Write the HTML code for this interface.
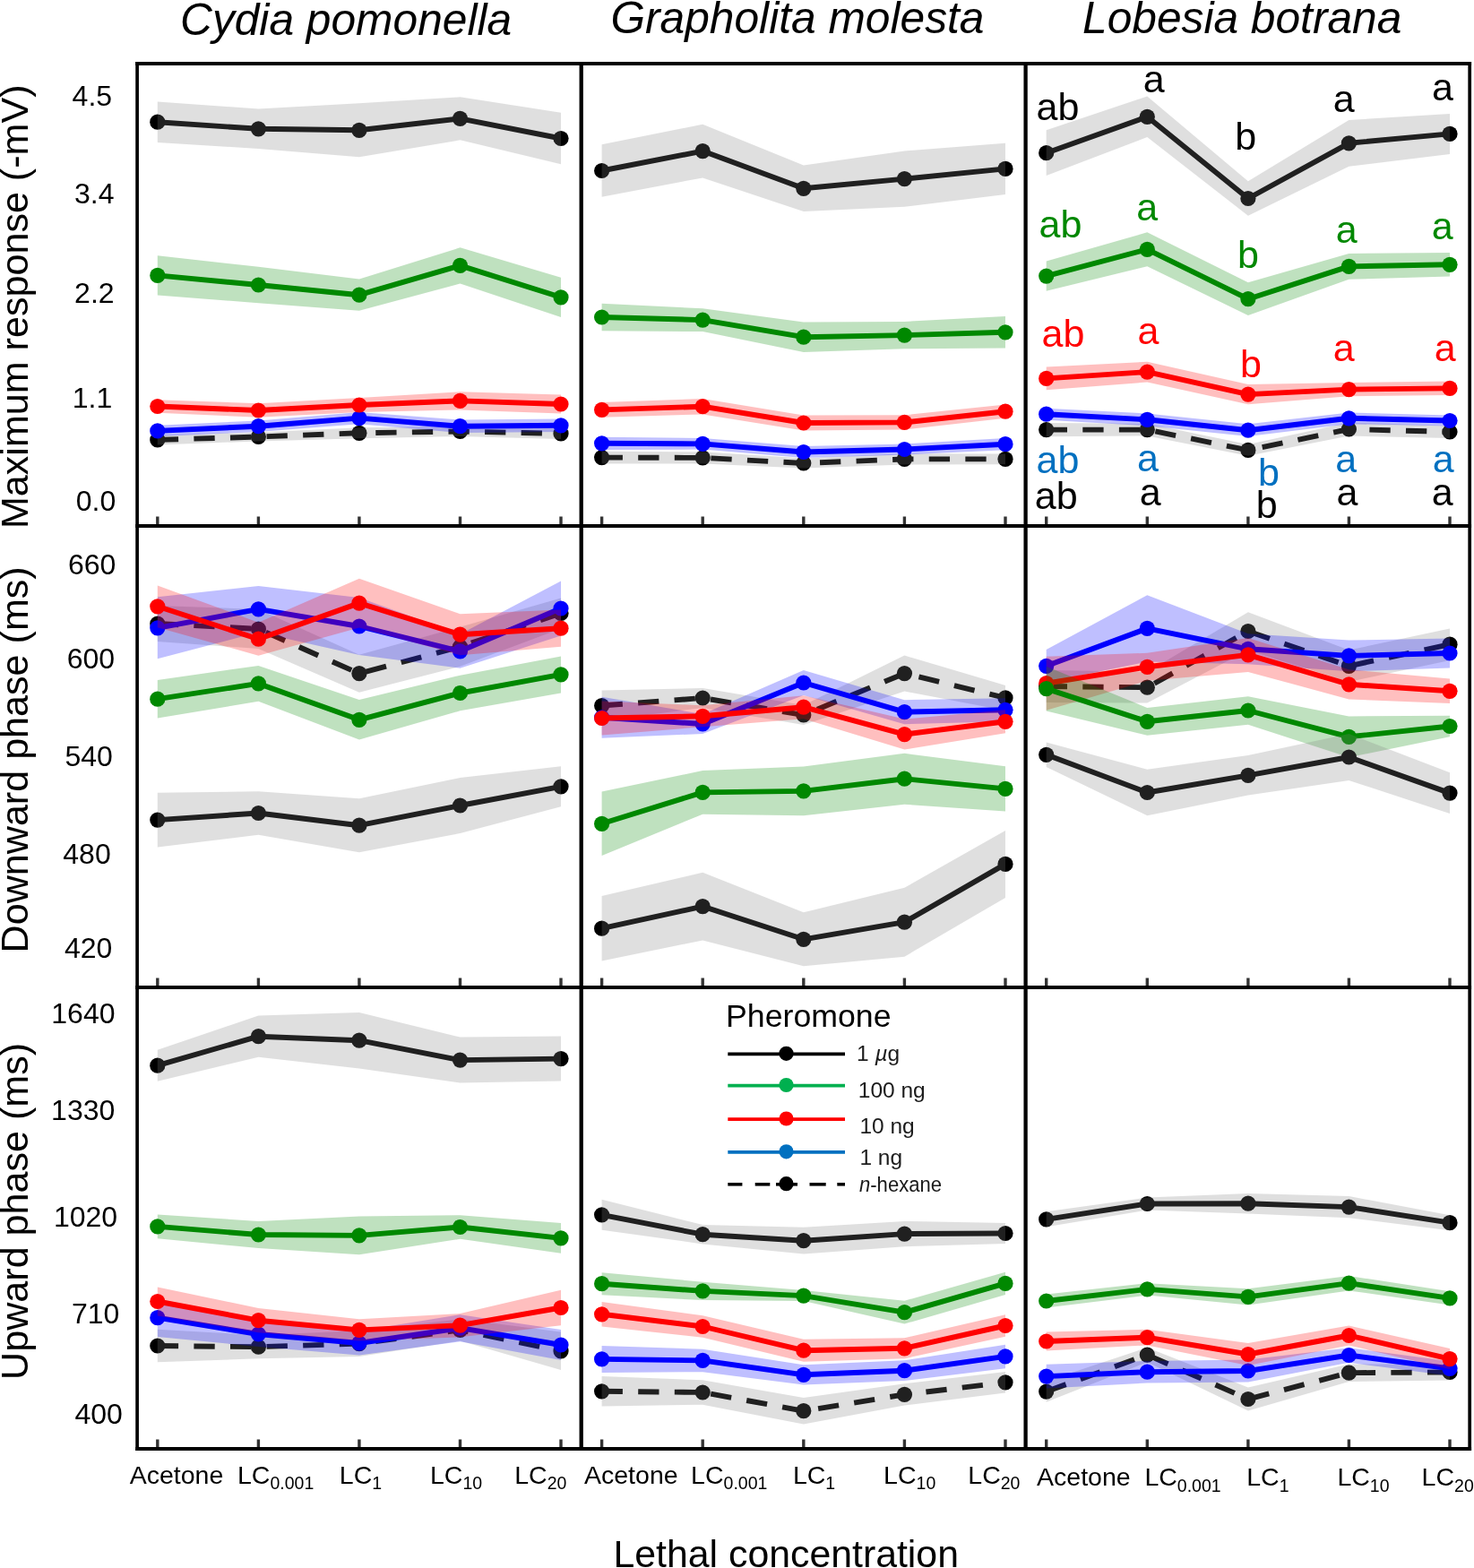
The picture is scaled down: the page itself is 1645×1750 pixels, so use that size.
<!DOCTYPE html>
<html><head><meta charset="utf-8"><title>Figure</title>
<style>
html,body{margin:0;padding:0;background:#fff;}
body{width:1645px;height:1750px;overflow:hidden;position:relative;}
svg{position:absolute;left:0;top:0;}
text{font-family:'Liberation Sans', Arial, Helvetica, sans-serif;}
</style></head><body>
<svg width="1645" height="1750" viewBox="0 0 1645 1750">
<defs><filter id="lb" x="-5%" y="-5%" width="110%" height="110%"><feGaussianBlur stdDeviation="0.55"/></filter></defs>
<rect x="0" y="0" width="1645" height="1750" fill="#fff"/>
<g id="plots">
<polyline points="175.8,490.9 288.4,487.5 400.9,483.3 513.5,481.5 626,483.9" fill="none" stroke="#000000" stroke-width="5.9" stroke-linejoin="round" stroke-dasharray="23.3 17.3"/>
<circle cx="175.8" cy="490.9" r="8.6" fill="#000000"/>
<circle cx="288.4" cy="487.5" r="8.6" fill="#000000"/>
<circle cx="400.9" cy="483.3" r="8.6" fill="#000000"/>
<circle cx="513.5" cy="481.5" r="8.6" fill="#000000"/>
<circle cx="626" cy="483.9" r="8.6" fill="#000000"/>
<polygon points="175.8,485.4 288.4,482.5 400.9,477.3 513.5,476 626,477.9 626,489.9 513.5,487 400.9,489.3 288.4,492.5 175.8,496.4" fill="#808080" fill-opacity="0.25"/>
<polyline points="175.8,480.9 288.4,475.7 400.9,466.6 513.5,475.7 626,474.8" fill="none" stroke="#0000ff" stroke-width="5.9" stroke-linejoin="round"/>
<circle cx="175.8" cy="480.9" r="8.6" fill="#0000ff"/>
<circle cx="288.4" cy="475.7" r="8.6" fill="#0000ff"/>
<circle cx="400.9" cy="466.6" r="8.6" fill="#0000ff"/>
<circle cx="513.5" cy="475.7" r="8.6" fill="#0000ff"/>
<circle cx="626" cy="474.8" r="8.6" fill="#0000ff"/>
<polygon points="175.8,474.7 288.4,469.5 400.9,460 513.5,468.4 626,467.6 626,482 513.5,483 400.9,473.2 288.4,481.9 175.8,487.1" fill="#0000ff" fill-opacity="0.25"/>
<polyline points="175.8,453.5 288.4,458 400.9,452 513.5,447.4 626,451" fill="none" stroke="#ff0000" stroke-width="5.9" stroke-linejoin="round"/>
<circle cx="175.8" cy="453.5" r="8.6" fill="#ff0000"/>
<circle cx="288.4" cy="458" r="8.6" fill="#ff0000"/>
<circle cx="400.9" cy="452" r="8.6" fill="#ff0000"/>
<circle cx="513.5" cy="447.4" r="8.6" fill="#ff0000"/>
<circle cx="626" cy="451" r="8.6" fill="#ff0000"/>
<polygon points="175.8,446.3 288.4,450.2 400.9,444.1 513.5,437.3 626,440.4 626,461.6 513.5,457.5 400.9,459.9 288.4,465.8 175.8,460.7" fill="#ff0000" fill-opacity="0.25"/>
<polyline points="175.8,307.4 288.4,318 400.9,329.2 513.5,296.4 626,331.8" fill="none" stroke="#008800" stroke-width="5.9" stroke-linejoin="round"/>
<circle cx="175.8" cy="307.4" r="8.6" fill="#008800"/>
<circle cx="288.4" cy="318" r="8.6" fill="#008800"/>
<circle cx="400.9" cy="329.2" r="8.6" fill="#008800"/>
<circle cx="513.5" cy="296.4" r="8.6" fill="#008800"/>
<circle cx="626" cy="331.8" r="8.6" fill="#008800"/>
<polygon points="175.8,285.2 288.4,297.8 400.9,311.6 513.5,276.3 626,309.7 626,353.9 513.5,316.5 400.9,346.8 288.4,338.2 175.8,329.6" fill="#008800" fill-opacity="0.25"/>
<polyline points="175.8,136.2 288.4,143.8 400.9,145.3 513.5,132.3 626,154.5" fill="none" stroke="#000000" stroke-width="5.9" stroke-linejoin="round"/>
<circle cx="175.8" cy="136.2" r="8.6" fill="#000000"/>
<circle cx="288.4" cy="143.8" r="8.6" fill="#000000"/>
<circle cx="400.9" cy="145.3" r="8.6" fill="#000000"/>
<circle cx="513.5" cy="132.3" r="8.6" fill="#000000"/>
<circle cx="626" cy="154.5" r="8.6" fill="#000000"/>
<polygon points="175.8,113.4 288.4,121.6 400.9,115.3 513.5,108.3 626,125.7 626,183.3 513.5,156.3 400.9,175.3 288.4,166 175.8,159" fill="#808080" fill-opacity="0.25"/>
<polyline points="175.8,696 288.4,702 400.9,751.7 513.5,721.8 626,684.5" fill="none" stroke="#000000" stroke-width="5.9" stroke-linejoin="round" stroke-dasharray="23.3 17.3"/>
<circle cx="175.8" cy="696" r="8.6" fill="#000000"/>
<circle cx="288.4" cy="702" r="8.6" fill="#000000"/>
<circle cx="400.9" cy="751.7" r="8.6" fill="#000000"/>
<circle cx="513.5" cy="721.8" r="8.6" fill="#000000"/>
<circle cx="626" cy="684.5" r="8.6" fill="#000000"/>
<polygon points="175.8,676 288.4,680 400.9,730.7 513.5,699.8 626,667.5 626,701.5 513.5,743.8 400.9,772.7 288.4,724 175.8,716" fill="#808080" fill-opacity="0.25"/>
<polyline points="175.8,700.8 288.4,679.9 400.9,699 513.5,726.8 626,679" fill="none" stroke="#0000ff" stroke-width="5.9" stroke-linejoin="round"/>
<circle cx="175.8" cy="700.8" r="8.6" fill="#0000ff"/>
<circle cx="288.4" cy="679.9" r="8.6" fill="#0000ff"/>
<circle cx="400.9" cy="699" r="8.6" fill="#0000ff"/>
<circle cx="513.5" cy="726.8" r="8.6" fill="#0000ff"/>
<circle cx="626" cy="679" r="8.6" fill="#0000ff"/>
<polygon points="175.8,666.3 288.4,654 400.9,667 513.5,707.8 626,648.5 626,709.5 513.5,745.8 400.9,731 288.4,705.8 175.8,735.3" fill="#0000ff" fill-opacity="0.25"/>
<polyline points="175.8,676.8 288.4,713.2 400.9,673.1 513.5,708.2 626,701.2" fill="none" stroke="#ff0000" stroke-width="5.9" stroke-linejoin="round"/>
<circle cx="175.8" cy="676.8" r="8.6" fill="#ff0000"/>
<circle cx="288.4" cy="713.2" r="8.6" fill="#ff0000"/>
<circle cx="400.9" cy="673.1" r="8.6" fill="#ff0000"/>
<circle cx="513.5" cy="708.2" r="8.6" fill="#ff0000"/>
<circle cx="626" cy="701.2" r="8.6" fill="#ff0000"/>
<polygon points="175.8,653.4 288.4,694.7 400.9,645.8 513.5,685.2 626,680.6 626,721.8 513.5,731.2 400.9,700.4 288.4,731.7 175.8,700.2" fill="#ff0000" fill-opacity="0.25"/>
<polyline points="175.8,780.2 288.4,762.9 400.9,803.3 513.5,773.5 626,752.9" fill="none" stroke="#008800" stroke-width="5.9" stroke-linejoin="round"/>
<circle cx="175.8" cy="780.2" r="8.6" fill="#008800"/>
<circle cx="288.4" cy="762.9" r="8.6" fill="#008800"/>
<circle cx="400.9" cy="803.3" r="8.6" fill="#008800"/>
<circle cx="513.5" cy="773.5" r="8.6" fill="#008800"/>
<circle cx="626" cy="752.9" r="8.6" fill="#008800"/>
<polygon points="175.8,758.9 288.4,743 400.9,781 513.5,753.7 626,732.4 626,773.4 513.5,793.3 400.9,825.6 288.4,782.8 175.8,801.5" fill="#008800" fill-opacity="0.25"/>
<polyline points="175.8,915.1 288.4,907.5 400.9,921.2 513.5,899 626,877.8" fill="none" stroke="#000000" stroke-width="5.9" stroke-linejoin="round"/>
<circle cx="175.8" cy="915.1" r="8.6" fill="#000000"/>
<circle cx="288.4" cy="907.5" r="8.6" fill="#000000"/>
<circle cx="400.9" cy="921.2" r="8.6" fill="#000000"/>
<circle cx="513.5" cy="899" r="8.6" fill="#000000"/>
<circle cx="626" cy="877.8" r="8.6" fill="#000000"/>
<polygon points="175.8,884.7 288.4,883.2 400.9,891.2 513.5,868 626,855.3 626,900.3 513.5,930 400.9,951.2 288.4,931.8 175.8,945.5" fill="#808080" fill-opacity="0.25"/>
<polyline points="175.8,1502 288.4,1503.2 400.9,1499.6 513.5,1484.4 626,1507.8" fill="none" stroke="#000000" stroke-width="5.9" stroke-linejoin="round" stroke-dasharray="23.3 17.3"/>
<circle cx="175.8" cy="1502" r="8.6" fill="#000000"/>
<circle cx="288.4" cy="1503.2" r="8.6" fill="#000000"/>
<circle cx="400.9" cy="1499.6" r="8.6" fill="#000000"/>
<circle cx="513.5" cy="1484.4" r="8.6" fill="#000000"/>
<circle cx="626" cy="1507.8" r="8.6" fill="#000000"/>
<polygon points="175.8,1483.8 288.4,1490.1 400.9,1485.3 513.5,1472.3 626,1486.6 626,1529 513.5,1496.5 400.9,1513.9 288.4,1516.3 175.8,1520.2" fill="#808080" fill-opacity="0.25"/>
<polyline points="175.8,1470.7 288.4,1489 400.9,1499 513.5,1482.2 626,1501" fill="none" stroke="#0000ff" stroke-width="5.9" stroke-linejoin="round"/>
<circle cx="175.8" cy="1470.7" r="8.6" fill="#0000ff"/>
<circle cx="288.4" cy="1489" r="8.6" fill="#0000ff"/>
<circle cx="400.9" cy="1499" r="8.6" fill="#0000ff"/>
<circle cx="513.5" cy="1482.2" r="8.6" fill="#0000ff"/>
<circle cx="626" cy="1501" r="8.6" fill="#0000ff"/>
<polygon points="175.8,1449.4 288.4,1475 400.9,1485.4 513.5,1467.2 626,1484 626,1518 513.5,1497.2 400.9,1512.6 288.4,1503 175.8,1492" fill="#0000ff" fill-opacity="0.25"/>
<polyline points="175.8,1452.5 288.4,1473.7 400.9,1484.4 513.5,1479.2 626,1459.5" fill="none" stroke="#ff0000" stroke-width="5.9" stroke-linejoin="round"/>
<circle cx="175.8" cy="1452.5" r="8.6" fill="#ff0000"/>
<circle cx="288.4" cy="1473.7" r="8.6" fill="#ff0000"/>
<circle cx="400.9" cy="1484.4" r="8.6" fill="#ff0000"/>
<circle cx="513.5" cy="1479.2" r="8.6" fill="#ff0000"/>
<circle cx="626" cy="1459.5" r="8.6" fill="#ff0000"/>
<polygon points="175.8,1436.4 288.4,1460.1 400.9,1472.2 513.5,1466.1 626,1439.7 626,1479.3 513.5,1492.3 400.9,1496.6 288.4,1487.3 175.8,1468.6" fill="#ff0000" fill-opacity="0.25"/>
<polyline points="175.8,1368.9 288.4,1378 400.9,1378.9 513.5,1369.5 626,1381.9" fill="none" stroke="#008800" stroke-width="5.9" stroke-linejoin="round"/>
<circle cx="175.8" cy="1368.9" r="8.6" fill="#008800"/>
<circle cx="288.4" cy="1378" r="8.6" fill="#008800"/>
<circle cx="400.9" cy="1378.9" r="8.6" fill="#008800"/>
<circle cx="513.5" cy="1369.5" r="8.6" fill="#008800"/>
<circle cx="626" cy="1381.9" r="8.6" fill="#008800"/>
<polygon points="175.8,1355.6 288.4,1363 400.9,1357.6 513.5,1356.2 626,1365 626,1398.8 513.5,1382.8 400.9,1400.2 288.4,1393 175.8,1382.2" fill="#008800" fill-opacity="0.25"/>
<polyline points="175.8,1189.2 288.4,1156.7 400.9,1161.2 513.5,1183.1 626,1181.6" fill="none" stroke="#000000" stroke-width="5.9" stroke-linejoin="round"/>
<circle cx="175.8" cy="1189.2" r="8.6" fill="#000000"/>
<circle cx="288.4" cy="1156.7" r="8.6" fill="#000000"/>
<circle cx="400.9" cy="1161.2" r="8.6" fill="#000000"/>
<circle cx="513.5" cy="1183.1" r="8.6" fill="#000000"/>
<circle cx="626" cy="1181.6" r="8.6" fill="#000000"/>
<polygon points="175.8,1171.8 288.4,1133.6 400.9,1130 513.5,1157.6 626,1156.5 626,1206.6 513.5,1208.6 400.9,1192.4 288.4,1179.8 175.8,1206.7" fill="#808080" fill-opacity="0.25"/>
<polyline points="671.6,510.6 784.2,510.9 896.8,517 1009.4,512.4 1122,512.4" fill="none" stroke="#000000" stroke-width="5.9" stroke-linejoin="round" stroke-dasharray="23.3 17.3"/>
<circle cx="671.6" cy="510.6" r="8.6" fill="#000000"/>
<circle cx="784.2" cy="510.9" r="8.6" fill="#000000"/>
<circle cx="896.8" cy="517" r="8.6" fill="#000000"/>
<circle cx="1009.4" cy="512.4" r="8.6" fill="#000000"/>
<circle cx="1122" cy="512.4" r="8.6" fill="#000000"/>
<polygon points="671.6,503.8 784.2,504.3 896.8,511.4 1009.4,506.3 1122,506.6 1122,518.2 1009.4,518.5 896.8,522.6 784.2,517.4 671.6,517.5" fill="#808080" fill-opacity="0.25"/>
<polyline points="671.6,494.8 784.2,495.4 896.8,504.5 1009.4,501.5 1122,495.7" fill="none" stroke="#0000ff" stroke-width="5.9" stroke-linejoin="round"/>
<circle cx="671.6" cy="494.8" r="8.6" fill="#0000ff"/>
<circle cx="784.2" cy="495.4" r="8.6" fill="#0000ff"/>
<circle cx="896.8" cy="504.5" r="8.6" fill="#0000ff"/>
<circle cx="1009.4" cy="501.5" r="8.6" fill="#0000ff"/>
<circle cx="1122" cy="495.7" r="8.6" fill="#0000ff"/>
<polygon points="671.6,487.7 784.2,489.1 896.8,497.9 1009.4,495.4 1122,489.1 1122,502.2 1009.4,507.6 896.8,511.1 784.2,501.6 671.6,501.9" fill="#0000ff" fill-opacity="0.25"/>
<polyline points="671.6,457.4 784.2,453.7 896.8,472 1009.4,471.4 1122,459.2" fill="none" stroke="#ff0000" stroke-width="5.9" stroke-linejoin="round"/>
<circle cx="671.6" cy="457.4" r="8.6" fill="#ff0000"/>
<circle cx="784.2" cy="453.7" r="8.6" fill="#ff0000"/>
<circle cx="896.8" cy="472" r="8.6" fill="#ff0000"/>
<circle cx="1009.4" cy="471.4" r="8.6" fill="#ff0000"/>
<circle cx="1122" cy="459.2" r="8.6" fill="#ff0000"/>
<polygon points="671.6,449 784.2,445 896.8,463.6 1009.4,463.3 1122,451.6 1122,466.8 1009.4,479.4 896.8,480.4 784.2,462.4 671.6,465.8" fill="#ff0000" fill-opacity="0.25"/>
<polyline points="671.6,354 784.2,357.1 896.8,376.2 1009.4,374.1 1122,370.8" fill="none" stroke="#008800" stroke-width="5.9" stroke-linejoin="round"/>
<circle cx="671.6" cy="354" r="8.6" fill="#008800"/>
<circle cx="784.2" cy="357.1" r="8.6" fill="#008800"/>
<circle cx="896.8" cy="376.2" r="8.6" fill="#008800"/>
<circle cx="1009.4" cy="374.1" r="8.6" fill="#008800"/>
<circle cx="1122" cy="370.8" r="8.6" fill="#008800"/>
<polygon points="671.6,338.8 784.2,344.2 896.8,359.4 1009.4,358.9 1122,353 1122,388.6 1009.4,389.3 896.8,392.9 784.2,370.1 671.6,369.2" fill="#008800" fill-opacity="0.25"/>
<polyline points="671.6,190.5 784.2,168.6 896.8,210.3 1009.4,199.6 1122,188.4" fill="none" stroke="#000000" stroke-width="5.9" stroke-linejoin="round"/>
<circle cx="671.6" cy="190.5" r="8.6" fill="#000000"/>
<circle cx="784.2" cy="168.6" r="8.6" fill="#000000"/>
<circle cx="896.8" cy="210.3" r="8.6" fill="#000000"/>
<circle cx="1009.4" cy="199.6" r="8.6" fill="#000000"/>
<circle cx="1122" cy="188.4" r="8.6" fill="#000000"/>
<polygon points="671.6,161.3 784.2,138.8 896.8,184.6 1009.4,168.4 1122,159.8 1122,217 1009.4,230.8 896.8,236 784.2,198.4 671.6,219.7" fill="#808080" fill-opacity="0.25"/>
<polyline points="671.6,787.5 784.2,779 896.8,798 1009.4,751.6 1122,778.9" fill="none" stroke="#000000" stroke-width="5.9" stroke-linejoin="round" stroke-dasharray="23.3 17.3"/>
<circle cx="671.6" cy="787.5" r="8.6" fill="#000000"/>
<circle cx="784.2" cy="779" r="8.6" fill="#000000"/>
<circle cx="896.8" cy="798" r="8.6" fill="#000000"/>
<circle cx="1009.4" cy="751.6" r="8.6" fill="#000000"/>
<circle cx="1122" cy="778.9" r="8.6" fill="#000000"/>
<polygon points="671.6,770.5 784.2,768 896.8,787 1009.4,731.6 1122,764.9 1122,792.9 1009.4,771.6 896.8,809 784.2,790 671.6,804.5" fill="#808080" fill-opacity="0.25"/>
<polyline points="671.6,800.8 784.2,808 896.8,762 1009.4,794.7 1122,792.3" fill="none" stroke="#0000ff" stroke-width="5.9" stroke-linejoin="round"/>
<circle cx="671.6" cy="800.8" r="8.6" fill="#0000ff"/>
<circle cx="784.2" cy="808" r="8.6" fill="#0000ff"/>
<circle cx="896.8" cy="762" r="8.6" fill="#0000ff"/>
<circle cx="1009.4" cy="794.7" r="8.6" fill="#0000ff"/>
<circle cx="1122" cy="792.3" r="8.6" fill="#0000ff"/>
<polygon points="671.6,777.8 784.2,797 896.8,748 1009.4,781.2 1122,779.3 1122,805.3 1009.4,808.2 896.8,776 784.2,819 671.6,823.8" fill="#0000ff" fill-opacity="0.25"/>
<polyline points="671.6,801.5 784.2,799.3 896.8,789.2 1009.4,819.6 1122,805.3" fill="none" stroke="#ff0000" stroke-width="5.9" stroke-linejoin="round"/>
<circle cx="671.6" cy="801.5" r="8.6" fill="#ff0000"/>
<circle cx="784.2" cy="799.3" r="8.6" fill="#ff0000"/>
<circle cx="896.8" cy="789.2" r="8.6" fill="#ff0000"/>
<circle cx="1009.4" cy="819.6" r="8.6" fill="#ff0000"/>
<circle cx="1122" cy="805.3" r="8.6" fill="#ff0000"/>
<polygon points="671.6,782.5 784.2,787.3 896.8,776.2 1009.4,802.6 1122,792.3 1122,818.3 1009.4,836.6 896.8,802.2 784.2,811.3 671.6,820.5" fill="#ff0000" fill-opacity="0.25"/>
<polyline points="671.6,919.3 784.2,884.4 896.8,882.9 1009.4,869.2 1122,880.4" fill="none" stroke="#008800" stroke-width="5.9" stroke-linejoin="round"/>
<circle cx="671.6" cy="919.3" r="8.6" fill="#008800"/>
<circle cx="784.2" cy="884.4" r="8.6" fill="#008800"/>
<circle cx="896.8" cy="882.9" r="8.6" fill="#008800"/>
<circle cx="1009.4" cy="869.2" r="8.6" fill="#008800"/>
<circle cx="1122" cy="880.4" r="8.6" fill="#008800"/>
<polygon points="671.6,883.6 784.2,860.1 896.8,855.5 1009.4,840.8 1122,855.3 1122,905.5 1009.4,897.7 896.8,910.2 784.2,908.7 671.6,955" fill="#008800" fill-opacity="0.25"/>
<polyline points="671.6,1036.2 784.2,1011.6 896.8,1048.3 1009.4,1029.2 1122,964.4" fill="none" stroke="#000000" stroke-width="5.9" stroke-linejoin="round"/>
<circle cx="671.6" cy="1036.2" r="8.6" fill="#000000"/>
<circle cx="784.2" cy="1011.6" r="8.6" fill="#000000"/>
<circle cx="896.8" cy="1048.3" r="8.6" fill="#000000"/>
<circle cx="1009.4" cy="1029.2" r="8.6" fill="#000000"/>
<circle cx="1122" cy="964.4" r="8.6" fill="#000000"/>
<polygon points="671.6,1000.1 784.2,973.8 896.8,1018.3 1009.4,990.8 1122,926.9 1122,1001.9 1009.4,1067.7 896.8,1078.2 784.2,1049.4 671.6,1072.4" fill="#808080" fill-opacity="0.25"/>
<polyline points="671.6,1552.8 784.2,1554 896.8,1574.7 1009.4,1556.4 1122,1542.8" fill="none" stroke="#000000" stroke-width="5.9" stroke-linejoin="round" stroke-dasharray="23.3 17.3"/>
<circle cx="671.6" cy="1552.8" r="8.6" fill="#000000"/>
<circle cx="784.2" cy="1554" r="8.6" fill="#000000"/>
<circle cx="896.8" cy="1574.7" r="8.6" fill="#000000"/>
<circle cx="1009.4" cy="1556.4" r="8.6" fill="#000000"/>
<circle cx="1122" cy="1542.8" r="8.6" fill="#000000"/>
<polygon points="671.6,1536.1 784.2,1540.3 896.8,1560 1009.4,1544.2 1122,1531.1 1122,1554.5 1009.4,1568.6 896.8,1589.5 784.2,1567.7 671.6,1569.5" fill="#808080" fill-opacity="0.25"/>
<polyline points="671.6,1516.9 784.2,1518.4 896.8,1534.3 1009.4,1529.7 1122,1513.9" fill="none" stroke="#0000ff" stroke-width="5.9" stroke-linejoin="round"/>
<circle cx="671.6" cy="1516.9" r="8.6" fill="#0000ff"/>
<circle cx="784.2" cy="1518.4" r="8.6" fill="#0000ff"/>
<circle cx="896.8" cy="1534.3" r="8.6" fill="#0000ff"/>
<circle cx="1009.4" cy="1529.7" r="8.6" fill="#0000ff"/>
<circle cx="1122" cy="1513.9" r="8.6" fill="#0000ff"/>
<polygon points="671.6,1501.9 784.2,1505.7 896.8,1523.2 1009.4,1518.3 1122,1500.7 1122,1527.2 1009.4,1541.1 896.8,1545.4 784.2,1531.2 671.6,1532" fill="#0000ff" fill-opacity="0.25"/>
<polyline points="671.6,1466.8 784.2,1480.5 896.8,1507.2 1009.4,1504.8 1122,1479.5" fill="none" stroke="#ff0000" stroke-width="5.9" stroke-linejoin="round"/>
<circle cx="671.6" cy="1466.8" r="8.6" fill="#ff0000"/>
<circle cx="784.2" cy="1480.5" r="8.6" fill="#ff0000"/>
<circle cx="896.8" cy="1507.2" r="8.6" fill="#ff0000"/>
<circle cx="1009.4" cy="1504.8" r="8.6" fill="#ff0000"/>
<circle cx="1122" cy="1479.5" r="8.6" fill="#ff0000"/>
<polygon points="671.6,1453.1 784.2,1468.3 896.8,1494.7 1009.4,1493.2 1122,1467.3 1122,1491.7 1009.4,1516.3 896.8,1519.7 784.2,1492.7 671.6,1480.5" fill="#ff0000" fill-opacity="0.25"/>
<polyline points="671.6,1432.7 784.2,1440.9 896.8,1446.1 1009.4,1464.7 1122,1432.4" fill="none" stroke="#008800" stroke-width="5.9" stroke-linejoin="round"/>
<circle cx="671.6" cy="1432.7" r="8.6" fill="#008800"/>
<circle cx="784.2" cy="1440.9" r="8.6" fill="#008800"/>
<circle cx="896.8" cy="1446.1" r="8.6" fill="#008800"/>
<circle cx="1009.4" cy="1464.7" r="8.6" fill="#008800"/>
<circle cx="1122" cy="1432.4" r="8.6" fill="#008800"/>
<polygon points="671.6,1420.2 784.2,1430.7 896.8,1440.1 1009.4,1451.8 1122,1419.8 1122,1445 1009.4,1477.6 896.8,1452.1 784.2,1451.1 671.6,1445.2" fill="#008800" fill-opacity="0.25"/>
<polyline points="671.6,1355.8 784.2,1377.7 896.8,1384.7 1009.4,1377.1 1122,1376.5" fill="none" stroke="#000000" stroke-width="5.9" stroke-linejoin="round"/>
<circle cx="671.6" cy="1355.8" r="8.6" fill="#000000"/>
<circle cx="784.2" cy="1377.7" r="8.6" fill="#000000"/>
<circle cx="896.8" cy="1384.7" r="8.6" fill="#000000"/>
<circle cx="1009.4" cy="1377.1" r="8.6" fill="#000000"/>
<circle cx="1122" cy="1376.5" r="8.6" fill="#000000"/>
<polygon points="671.6,1338.8 784.2,1367 896.8,1369.8 1009.4,1362.9 1122,1365.1 1122,1387.9 1009.4,1391.2 896.8,1399.6 784.2,1388.4 671.6,1372.8" fill="#808080" fill-opacity="0.25"/>
<polyline points="1167.7,479.6 1280.3,479.6 1392.9,502.4 1505.4,479 1618,482" fill="none" stroke="#000000" stroke-width="5.9" stroke-linejoin="round" stroke-dasharray="23.3 17.3"/>
<circle cx="1167.7" cy="479.6" r="8.6" fill="#000000"/>
<circle cx="1280.3" cy="479.6" r="8.6" fill="#000000"/>
<circle cx="1392.9" cy="502.4" r="8.6" fill="#000000"/>
<circle cx="1505.4" cy="479" r="8.6" fill="#000000"/>
<circle cx="1618" cy="482" r="8.6" fill="#000000"/>
<polygon points="1167.7,472 1280.3,472.8 1392.9,496 1505.4,471.4 1618,475.1 1618,488.9 1505.4,486.6 1392.9,508.8 1280.3,486.5 1167.7,487.2" fill="#808080" fill-opacity="0.25"/>
<polyline points="1167.7,462.2 1280.3,468.3 1392.9,480.2 1505.4,466.8 1618,469.5" fill="none" stroke="#0000ff" stroke-width="5.9" stroke-linejoin="round"/>
<circle cx="1167.7" cy="462.2" r="8.6" fill="#0000ff"/>
<circle cx="1280.3" cy="468.3" r="8.6" fill="#0000ff"/>
<circle cx="1392.9" cy="480.2" r="8.6" fill="#0000ff"/>
<circle cx="1505.4" cy="466.8" r="8.6" fill="#0000ff"/>
<circle cx="1618" cy="469.5" r="8.6" fill="#0000ff"/>
<polygon points="1167.7,455.7 1280.3,461.4 1392.9,473.3 1505.4,460.4 1618,463.4 1618,475.6 1505.4,473.2 1392.9,487.1 1280.3,475.2 1167.7,468.7" fill="#0000ff" fill-opacity="0.25"/>
<polyline points="1167.7,422.4 1280.3,415.1 1392.9,440.1 1505.4,434.6 1618,433.4" fill="none" stroke="#ff0000" stroke-width="5.9" stroke-linejoin="round"/>
<circle cx="1167.7" cy="422.4" r="8.6" fill="#ff0000"/>
<circle cx="1280.3" cy="415.1" r="8.6" fill="#ff0000"/>
<circle cx="1392.9" cy="440.1" r="8.6" fill="#ff0000"/>
<circle cx="1505.4" cy="434.6" r="8.6" fill="#ff0000"/>
<circle cx="1618" cy="433.4" r="8.6" fill="#ff0000"/>
<polygon points="1167.7,409.5 1280.3,403.7 1392.9,429 1505.4,427 1618,425.6 1618,441.1 1505.4,442.2 1392.9,451.2 1280.3,426.5 1167.7,435.3" fill="#ff0000" fill-opacity="0.25"/>
<polyline points="1167.7,308.1 1280.3,278.3 1392.9,333.7 1505.4,297.4 1618,295.3" fill="none" stroke="#008800" stroke-width="5.9" stroke-linejoin="round"/>
<circle cx="1167.7" cy="308.1" r="8.6" fill="#008800"/>
<circle cx="1280.3" cy="278.3" r="8.6" fill="#008800"/>
<circle cx="1392.9" cy="333.7" r="8.6" fill="#008800"/>
<circle cx="1505.4" cy="297.4" r="8.6" fill="#008800"/>
<circle cx="1618" cy="295.3" r="8.6" fill="#008800"/>
<polygon points="1167.7,291.4 1280.3,259.3 1392.9,315.3 1505.4,283 1618,282.1 1618,308.6 1505.4,311.8 1392.9,352.1 1280.3,297.3 1167.7,324.8" fill="#008800" fill-opacity="0.25"/>
<polyline points="1167.7,170.7 1280.3,130.3 1392.9,221.5 1505.4,159.8 1618,149.4" fill="none" stroke="#000000" stroke-width="5.9" stroke-linejoin="round"/>
<circle cx="1167.7" cy="170.7" r="8.6" fill="#000000"/>
<circle cx="1280.3" cy="130.3" r="8.6" fill="#000000"/>
<circle cx="1392.9" cy="221.5" r="8.6" fill="#000000"/>
<circle cx="1505.4" cy="159.8" r="8.6" fill="#000000"/>
<circle cx="1618" cy="149.4" r="8.6" fill="#000000"/>
<polygon points="1167.7,145.3 1280.3,107.5 1392.9,202.3 1505.4,134 1618,126.9 1618,171.9 1505.4,185.7 1392.9,240.7 1280.3,153.1 1167.7,196" fill="#808080" fill-opacity="0.25"/>
<polyline points="1167.7,766 1280.3,767.2 1392.9,704.5 1505.4,743.3 1618,719.2" fill="none" stroke="#000000" stroke-width="5.9" stroke-linejoin="round" stroke-dasharray="23.3 17.3"/>
<circle cx="1167.7" cy="766" r="8.6" fill="#000000"/>
<circle cx="1280.3" cy="767.2" r="8.6" fill="#000000"/>
<circle cx="1392.9" cy="704.5" r="8.6" fill="#000000"/>
<circle cx="1505.4" cy="743.3" r="8.6" fill="#000000"/>
<circle cx="1618" cy="719.2" r="8.6" fill="#000000"/>
<polygon points="1167.7,748 1280.3,749.9 1392.9,683.2 1505.4,725.6 1618,701.5 1618,736.9 1505.4,761 1392.9,725.8 1280.3,784.5 1167.7,784" fill="#808080" fill-opacity="0.25"/>
<polyline points="1167.7,743.3 1280.3,701.4 1392.9,724.3 1505.4,731.9 1618,729" fill="none" stroke="#0000ff" stroke-width="5.9" stroke-linejoin="round"/>
<circle cx="1167.7" cy="743.3" r="8.6" fill="#0000ff"/>
<circle cx="1280.3" cy="701.4" r="8.6" fill="#0000ff"/>
<circle cx="1392.9" cy="724.3" r="8.6" fill="#0000ff"/>
<circle cx="1505.4" cy="731.9" r="8.6" fill="#0000ff"/>
<circle cx="1618" cy="729" r="8.6" fill="#0000ff"/>
<polygon points="1167.7,725.1 1280.3,664.2 1392.9,707.3 1505.4,714.5 1618,712.6 1618,745.4 1505.4,749.3 1392.9,741.3 1280.3,738.6 1167.7,761.5" fill="#0000ff" fill-opacity="0.25"/>
<polyline points="1167.7,762.7 1280.3,744.3 1392.9,730.9 1505.4,763.8 1618,771.3" fill="none" stroke="#ff0000" stroke-width="5.9" stroke-linejoin="round"/>
<circle cx="1167.7" cy="762.7" r="8.6" fill="#ff0000"/>
<circle cx="1280.3" cy="744.3" r="8.6" fill="#ff0000"/>
<circle cx="1392.9" cy="730.9" r="8.6" fill="#ff0000"/>
<circle cx="1505.4" cy="763.8" r="8.6" fill="#ff0000"/>
<circle cx="1618" cy="771.3" r="8.6" fill="#ff0000"/>
<polygon points="1167.7,732.7 1280.3,728.8 1392.9,711.9 1505.4,747.2 1618,757.5 1618,785.1 1505.4,780.4 1392.9,749.9 1280.3,759.8 1167.7,792.7" fill="#ff0000" fill-opacity="0.25"/>
<polyline points="1167.7,768.6 1280.3,805.3 1392.9,793 1505.4,822.3 1618,810.5" fill="none" stroke="#008800" stroke-width="5.9" stroke-linejoin="round"/>
<circle cx="1167.7" cy="768.6" r="8.6" fill="#008800"/>
<circle cx="1280.3" cy="805.3" r="8.6" fill="#008800"/>
<circle cx="1392.9" cy="793" r="8.6" fill="#008800"/>
<circle cx="1505.4" cy="822.3" r="8.6" fill="#008800"/>
<circle cx="1618" cy="810.5" r="8.6" fill="#008800"/>
<polygon points="1167.7,743.7 1280.3,789.9 1392.9,777.2 1505.4,799.4 1618,798.8 1618,822.2 1505.4,845.2 1392.9,808.8 1280.3,820.7 1167.7,793.5" fill="#008800" fill-opacity="0.25"/>
<polyline points="1167.7,842.3 1280.3,884.5 1392.9,865.3 1505.4,845 1618,885.1" fill="none" stroke="#000000" stroke-width="5.9" stroke-linejoin="round"/>
<circle cx="1167.7" cy="842.3" r="8.6" fill="#000000"/>
<circle cx="1280.3" cy="884.5" r="8.6" fill="#000000"/>
<circle cx="1392.9" cy="865.3" r="8.6" fill="#000000"/>
<circle cx="1505.4" cy="845" r="8.6" fill="#000000"/>
<circle cx="1618" cy="885.1" r="8.6" fill="#000000"/>
<polygon points="1167.7,828.6 1280.3,858.7 1392.9,843 1505.4,819 1618,862.3 1618,907.9 1505.4,871 1392.9,887.6 1280.3,910.3 1167.7,856" fill="#808080" fill-opacity="0.25"/>
<polyline points="1167.7,1553.1 1280.3,1512.1 1392.9,1561.5 1505.4,1532.2 1618,1531.5" fill="none" stroke="#000000" stroke-width="5.9" stroke-linejoin="round" stroke-dasharray="23.3 17.3"/>
<circle cx="1167.7" cy="1553.1" r="8.6" fill="#000000"/>
<circle cx="1280.3" cy="1512.1" r="8.6" fill="#000000"/>
<circle cx="1392.9" cy="1561.5" r="8.6" fill="#000000"/>
<circle cx="1505.4" cy="1532.2" r="8.6" fill="#000000"/>
<circle cx="1618" cy="1531.5" r="8.6" fill="#000000"/>
<polygon points="1167.7,1541.5 1280.3,1503.9 1392.9,1548.5 1505.4,1522.4 1618,1522.4 1618,1540.6 1505.4,1542 1392.9,1574.5 1280.3,1520.3 1167.7,1564.7" fill="#808080" fill-opacity="0.25"/>
<polyline points="1167.7,1536.1 1280.3,1531.2 1392.9,1530 1505.4,1512.5 1618,1527.4" fill="none" stroke="#0000ff" stroke-width="5.9" stroke-linejoin="round"/>
<circle cx="1167.7" cy="1536.1" r="8.6" fill="#0000ff"/>
<circle cx="1280.3" cy="1531.2" r="8.6" fill="#0000ff"/>
<circle cx="1392.9" cy="1530" r="8.6" fill="#0000ff"/>
<circle cx="1505.4" cy="1512.5" r="8.6" fill="#0000ff"/>
<circle cx="1618" cy="1527.4" r="8.6" fill="#0000ff"/>
<polygon points="1167.7,1522.8 1280.3,1518.9 1392.9,1517.5 1505.4,1504.3 1618,1519.2 1618,1535.6 1505.4,1520.7 1392.9,1542.5 1280.3,1543.5 1167.7,1549.4" fill="#0000ff" fill-opacity="0.25"/>
<polyline points="1167.7,1497 1280.3,1492.6 1392.9,1511.5 1505.4,1490.5 1618,1516.6" fill="none" stroke="#ff0000" stroke-width="5.9" stroke-linejoin="round"/>
<circle cx="1167.7" cy="1497" r="8.6" fill="#ff0000"/>
<circle cx="1280.3" cy="1492.6" r="8.6" fill="#ff0000"/>
<circle cx="1392.9" cy="1511.5" r="8.6" fill="#ff0000"/>
<circle cx="1505.4" cy="1490.5" r="8.6" fill="#ff0000"/>
<circle cx="1618" cy="1516.6" r="8.6" fill="#ff0000"/>
<polygon points="1167.7,1486.5 1280.3,1483.8 1392.9,1499 1505.4,1479.5 1618,1505.1 1618,1528.1 1505.4,1501.5 1392.9,1524 1280.3,1501.4 1167.7,1507.5" fill="#ff0000" fill-opacity="0.25"/>
<polyline points="1167.7,1452 1280.3,1438.9 1392.9,1447.4 1505.4,1432.2 1618,1448.9" fill="none" stroke="#008800" stroke-width="5.9" stroke-linejoin="round"/>
<circle cx="1167.7" cy="1452" r="8.6" fill="#008800"/>
<circle cx="1280.3" cy="1438.9" r="8.6" fill="#008800"/>
<circle cx="1392.9" cy="1447.4" r="8.6" fill="#008800"/>
<circle cx="1505.4" cy="1432.2" r="8.6" fill="#008800"/>
<circle cx="1618" cy="1448.9" r="8.6" fill="#008800"/>
<polygon points="1167.7,1444.4 1280.3,1432.2 1392.9,1438.3 1505.4,1424 1618,1441.3 1618,1456.5 1505.4,1440.4 1392.9,1456.5 1280.3,1445.6 1167.7,1459.6" fill="#008800" fill-opacity="0.25"/>
<polyline points="1167.7,1360.8 1280.3,1343.5 1392.9,1343.2 1505.4,1347.1 1618,1364.7" fill="none" stroke="#000000" stroke-width="5.9" stroke-linejoin="round"/>
<circle cx="1167.7" cy="1360.8" r="8.6" fill="#000000"/>
<circle cx="1280.3" cy="1343.5" r="8.6" fill="#000000"/>
<circle cx="1392.9" cy="1343.2" r="8.6" fill="#000000"/>
<circle cx="1505.4" cy="1347.1" r="8.6" fill="#000000"/>
<circle cx="1618" cy="1364.7" r="8.6" fill="#000000"/>
<polygon points="1167.7,1352.3 1280.3,1336.5 1392.9,1331.9 1505.4,1335 1618,1356.2 1618,1373.2 1505.4,1359.2 1392.9,1354.5 1280.3,1350.5 1167.7,1369.3" fill="#808080" fill-opacity="0.25"/>
</g>
<g id="frame">
<line x1="175.8" y1="576.5" x2="175.8" y2="587" stroke="#333" stroke-width="3.4"/>
<line x1="288.4" y1="576.5" x2="288.4" y2="587" stroke="#333" stroke-width="3.4"/>
<line x1="400.9" y1="576.5" x2="400.9" y2="587" stroke="#333" stroke-width="3.4"/>
<line x1="513.5" y1="576.5" x2="513.5" y2="587" stroke="#333" stroke-width="3.4"/>
<line x1="626" y1="576.5" x2="626" y2="587" stroke="#333" stroke-width="3.4"/>
<line x1="671.6" y1="576.5" x2="671.6" y2="587" stroke="#333" stroke-width="3.4"/>
<line x1="784.2" y1="576.5" x2="784.2" y2="587" stroke="#333" stroke-width="3.4"/>
<line x1="896.8" y1="576.5" x2="896.8" y2="587" stroke="#333" stroke-width="3.4"/>
<line x1="1009.4" y1="576.5" x2="1009.4" y2="587" stroke="#333" stroke-width="3.4"/>
<line x1="1122" y1="576.5" x2="1122" y2="587" stroke="#333" stroke-width="3.4"/>
<line x1="1167.7" y1="576.5" x2="1167.7" y2="587" stroke="#333" stroke-width="3.4"/>
<line x1="1280.3" y1="576.5" x2="1280.3" y2="587" stroke="#333" stroke-width="3.4"/>
<line x1="1392.9" y1="576.5" x2="1392.9" y2="587" stroke="#333" stroke-width="3.4"/>
<line x1="1505.4" y1="576.5" x2="1505.4" y2="587" stroke="#333" stroke-width="3.4"/>
<line x1="1618" y1="576.5" x2="1618" y2="587" stroke="#333" stroke-width="3.4"/>
<line x1="175.8" y1="1091.5" x2="175.8" y2="1102" stroke="#333" stroke-width="3.4"/>
<line x1="288.4" y1="1091.5" x2="288.4" y2="1102" stroke="#333" stroke-width="3.4"/>
<line x1="400.9" y1="1091.5" x2="400.9" y2="1102" stroke="#333" stroke-width="3.4"/>
<line x1="513.5" y1="1091.5" x2="513.5" y2="1102" stroke="#333" stroke-width="3.4"/>
<line x1="626" y1="1091.5" x2="626" y2="1102" stroke="#333" stroke-width="3.4"/>
<line x1="671.6" y1="1091.5" x2="671.6" y2="1102" stroke="#333" stroke-width="3.4"/>
<line x1="784.2" y1="1091.5" x2="784.2" y2="1102" stroke="#333" stroke-width="3.4"/>
<line x1="896.8" y1="1091.5" x2="896.8" y2="1102" stroke="#333" stroke-width="3.4"/>
<line x1="1009.4" y1="1091.5" x2="1009.4" y2="1102" stroke="#333" stroke-width="3.4"/>
<line x1="1122" y1="1091.5" x2="1122" y2="1102" stroke="#333" stroke-width="3.4"/>
<line x1="1167.7" y1="1091.5" x2="1167.7" y2="1102" stroke="#333" stroke-width="3.4"/>
<line x1="1280.3" y1="1091.5" x2="1280.3" y2="1102" stroke="#333" stroke-width="3.4"/>
<line x1="1392.9" y1="1091.5" x2="1392.9" y2="1102" stroke="#333" stroke-width="3.4"/>
<line x1="1505.4" y1="1091.5" x2="1505.4" y2="1102" stroke="#333" stroke-width="3.4"/>
<line x1="1618" y1="1091.5" x2="1618" y2="1102" stroke="#333" stroke-width="3.4"/>
<line x1="175.8" y1="1606.5" x2="175.8" y2="1617" stroke="#333" stroke-width="3.4"/>
<line x1="288.4" y1="1606.5" x2="288.4" y2="1617" stroke="#333" stroke-width="3.4"/>
<line x1="400.9" y1="1606.5" x2="400.9" y2="1617" stroke="#333" stroke-width="3.4"/>
<line x1="513.5" y1="1606.5" x2="513.5" y2="1617" stroke="#333" stroke-width="3.4"/>
<line x1="626" y1="1606.5" x2="626" y2="1617" stroke="#333" stroke-width="3.4"/>
<line x1="671.6" y1="1606.5" x2="671.6" y2="1617" stroke="#333" stroke-width="3.4"/>
<line x1="784.2" y1="1606.5" x2="784.2" y2="1617" stroke="#333" stroke-width="3.4"/>
<line x1="896.8" y1="1606.5" x2="896.8" y2="1617" stroke="#333" stroke-width="3.4"/>
<line x1="1009.4" y1="1606.5" x2="1009.4" y2="1617" stroke="#333" stroke-width="3.4"/>
<line x1="1122" y1="1606.5" x2="1122" y2="1617" stroke="#333" stroke-width="3.4"/>
<line x1="1167.7" y1="1606.5" x2="1167.7" y2="1617" stroke="#333" stroke-width="3.4"/>
<line x1="1280.3" y1="1606.5" x2="1280.3" y2="1617" stroke="#333" stroke-width="3.4"/>
<line x1="1392.9" y1="1606.5" x2="1392.9" y2="1617" stroke="#333" stroke-width="3.4"/>
<line x1="1505.4" y1="1606.5" x2="1505.4" y2="1617" stroke="#333" stroke-width="3.4"/>
<line x1="1618" y1="1606.5" x2="1618" y2="1617" stroke="#333" stroke-width="3.4"/>
<line x1="153.1" y1="69.1" x2="153.1" y2="1618.9" stroke="#000" stroke-width="3.7"/>
<line x1="648.7" y1="69.1" x2="648.7" y2="1618.9" stroke="#000" stroke-width="4.3"/>
<line x1="1144.6" y1="69.1" x2="1144.6" y2="1618.9" stroke="#000" stroke-width="4.3"/>
<line x1="1640.2" y1="69.1" x2="1640.2" y2="1618.9" stroke="#000" stroke-width="3.7"/>
<line x1="151.2" y1="71" x2="1642.1000000000001" y2="71" stroke="#000" stroke-width="3.8"/>
<line x1="151.2" y1="587" x2="1642.1000000000001" y2="587" stroke="#000" stroke-width="3.8"/>
<line x1="151.2" y1="1102" x2="1642.1000000000001" y2="1102" stroke="#000" stroke-width="3.8"/>
<line x1="151.2" y1="1617" x2="1642.1000000000001" y2="1617" stroke="#000" stroke-width="3.8"/>
</g>
<g id="legend" fill="#000" filter="url(#lb)">
<line x1="812.3" y1="1176.4" x2="943" y2="1176.4" stroke="#000000" stroke-width="3.6"/>
<circle cx="877.5" cy="1175.8" r="8.1" fill="#000000"/>
<line x1="812.3" y1="1211.6" x2="943" y2="1211.6" stroke="#00b050" stroke-width="3.6"/>
<circle cx="877.5" cy="1211" r="8.1" fill="#00b050"/>
<line x1="812.3" y1="1249.1" x2="943" y2="1249.1" stroke="#ff0000" stroke-width="3.6"/>
<circle cx="877.5" cy="1248.5" r="8.1" fill="#ff0000"/>
<line x1="812.3" y1="1285.9" x2="943" y2="1285.9" stroke="#0070c0" stroke-width="3.6"/>
<circle cx="877.5" cy="1285.3" r="8.1" fill="#0070c0"/>
<line x1="812.3" y1="1321.8" x2="828.4" y2="1321.8" stroke="#000000" stroke-width="3.6"/>
<line x1="842.7" y1="1321.8" x2="859.3" y2="1321.8" stroke="#000000" stroke-width="3.6"/>
<line x1="866" y1="1321.8" x2="890" y2="1321.8" stroke="#000000" stroke-width="3.6"/>
<line x1="903.5" y1="1321.8" x2="921.7" y2="1321.8" stroke="#000000" stroke-width="3.6"/>
<line x1="934.3" y1="1321.8" x2="943" y2="1321.8" stroke="#000000" stroke-width="3.6"/>
<circle cx="877.5" cy="1321.2" r="8.1" fill="#000000"/>
<text x="956" y="1183.5" font-size="24.5" fill="#1a1a1a">1 <tspan font-style="italic">µ</tspan>g</text>
<text x="957.8" y="1224.6" font-size="24.5" fill="#1a1a1a">100 ng</text>
<text x="959.4" y="1264.9" font-size="24.5" fill="#1a1a1a">10 ng</text>
<text x="959.4" y="1299.7" font-size="24.5" fill="#1a1a1a">1 ng</text>
<text x="959" y="1329.7" font-size="24.5" fill="#1a1a1a" textLength="92" lengthAdjust="spacingAndGlyphs"><tspan font-style="italic">n</tspan>-hexane</text>
</g>
<g id="texts" fill="#000">
<text x="201" y="38.9" font-size="49.7" font-style="italic">Cydia pomonella</text>
<text x="681.4" y="36.6" font-size="49.7" font-style="italic">Grapholita molesta</text>
<text x="1208" y="37" font-size="49.7" font-style="italic">Lobesia botrana</text>
<text x="80.6" y="117.5" font-size="32">4.5</text>
<text x="83.0" y="226.7" font-size="32">3.4</text>
<text x="83.1" y="338.1" font-size="32">2.2</text>
<text x="80.7" y="454.9" font-size="32">1.1</text>
<text x="84.8" y="570.4" font-size="32">0.0</text>
<text x="76.0" y="640.6" font-size="32">660</text>
<text x="74.7" y="745.6" font-size="32">600</text>
<text x="72.5" y="855.4" font-size="32">540</text>
<text x="70.3" y="964" font-size="32">480</text>
<text x="71.9" y="1069.1" font-size="32">420</text>
<text x="57.3" y="1141.7" font-size="32">1640</text>
<text x="57.1" y="1250" font-size="32">1330</text>
<text x="59.9" y="1369" font-size="32">1020</text>
<text x="79.9" y="1477.4" font-size="32">710</text>
<text x="83.5" y="1589.4" font-size="32">400</text>
<text transform="translate(31.2,590.1) rotate(-90)" font-size="43.1">Maximum response (-mV)</text>
<text transform="translate(31.2,1063.4) rotate(-90)" font-size="43.1">Downward phase (ms)</text>
<text transform="translate(31.2,1539.9) rotate(-90)" font-size="43.1">Upward phase (ms)</text>
<text x="684.5" y="1748.5" font-size="42.8">Lethal concentration</text>
<text x="144.7" y="1655.8" font-size="28.5">Acetone</text>
<text x="265" y="1655.8" font-size="28.5">LC<tspan font-size="19.5" dy="6.3">0.001</tspan></text>
<text x="378.8" y="1655.8" font-size="28.5">LC<tspan font-size="19.5" dy="6.3">1</tspan></text>
<text x="480" y="1655.8" font-size="28.5">LC<tspan font-size="19.5" dy="6.3">10</tspan></text>
<text x="574.2" y="1655.8" font-size="28.5">LC<tspan font-size="19.5" dy="6.3">20</tspan></text>
<text x="652" y="1655.8" font-size="28.5">Acetone</text>
<text x="771.1" y="1655.8" font-size="28.5">LC<tspan font-size="19.5" dy="6.3">0.001</tspan></text>
<text x="884.9" y="1655.8" font-size="28.5">LC<tspan font-size="19.5" dy="6.3">1</tspan></text>
<text x="986.1" y="1655.8" font-size="28.5">LC<tspan font-size="19.5" dy="6.3">10</tspan></text>
<text x="1080.3" y="1655.8" font-size="28.5">LC<tspan font-size="19.5" dy="6.3">20</tspan></text>
<text x="1157.1" y="1658.3" font-size="28.5">Acetone</text>
<text x="1277.4" y="1658.3" font-size="28.5">LC<tspan font-size="19.5" dy="6.3">0.001</tspan></text>
<text x="1391.2" y="1658.3" font-size="28.5">LC<tspan font-size="19.5" dy="6.3">1</tspan></text>
<text x="1492.4" y="1658.3" font-size="28.5">LC<tspan font-size="19.5" dy="6.3">10</tspan></text>
<text x="1586.6" y="1658.3" font-size="28.5">LC<tspan font-size="19.5" dy="6.3">20</tspan></text>
<text x="810" y="1146" font-size="35.7">Pheromone</text>
<text x="1156.5" y="133.8" font-size="43" fill="#000000">ab</text>
<text x="1275.8" y="103" font-size="43" fill="#000000">a</text>
<text x="1378.2" y="167" font-size="43" fill="#000000">b</text>
<text x="1487.8" y="125.4" font-size="43" fill="#000000">a</text>
<text x="1598.1" y="111.7" font-size="43" fill="#000000">a</text>
<text x="1159.5" y="265.2" font-size="43" fill="#008800">ab</text>
<text x="1268.3" y="245.5" font-size="43" fill="#008800">a</text>
<text x="1380.9" y="298.6" font-size="43" fill="#008800">b</text>
<text x="1490.8" y="271.3" font-size="43" fill="#008800">a</text>
<text x="1597.8" y="266.7" font-size="43" fill="#008800">a</text>
<text x="1162.6" y="386.5" font-size="43" fill="#ff0000">ab</text>
<text x="1269.5" y="383.5" font-size="43" fill="#ff0000">a</text>
<text x="1384" y="420.6" font-size="43" fill="#ff0000">b</text>
<text x="1487.8" y="402.7" font-size="43" fill="#ff0000">a</text>
<text x="1600.8" y="402.7" font-size="43" fill="#ff0000">a</text>
<text x="1156.6" y="528.2" font-size="43" fill="#0070c0">ab</text>
<text x="1269.1" y="525.9" font-size="43" fill="#0070c0">a</text>
<text x="1404.1" y="542.3" font-size="43" fill="#0070c0">b</text>
<text x="1490.2" y="527" font-size="43" fill="#0070c0">a</text>
<text x="1598.8" y="527" font-size="43" fill="#0070c0">a</text>
<text x="1154.8" y="567.9" font-size="43" fill="#000000">ab</text>
<text x="1271.7" y="563.8" font-size="43" fill="#000000">a</text>
<text x="1401.8" y="577.6" font-size="43" fill="#000000">b</text>
<text x="1491.4" y="564.4" font-size="43" fill="#000000">a</text>
<text x="1597.8" y="563.5" font-size="43" fill="#000000">a</text>
</g>
</svg>
</body></html>
